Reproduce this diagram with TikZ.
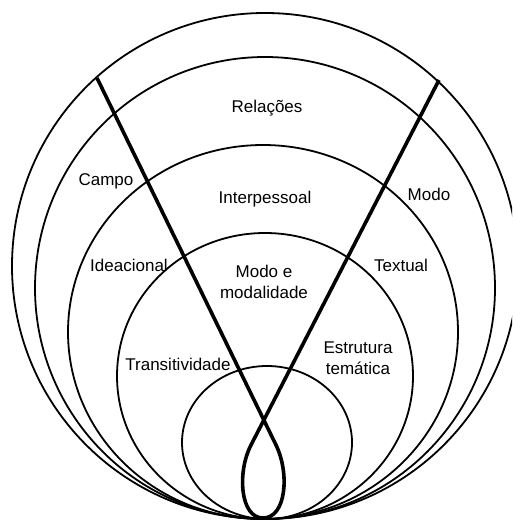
\documentclass[tikz,border=0pt]{standalone}
\usepackage{fontspec}
\setmainfont{Liberation Sans}
\begin{document}
\begin{tikzpicture}[x=1pt,y=-1pt,
  ring/.style={line width=1.8pt},
  axisline/.style={line width=3.6pt, line join=round},
  lbl/.style={font=\fontsize{17}{20.5}\selectfont, inner sep=0pt, align=center}]
\useasboundingbox (0,0) rectangle (512,521);
\clip (0,0) rectangle (512,521);
% nested rings, all touching at the bottom
\draw[ring] (265,266) ellipse [x radius=253pt, y radius=253pt];
\draw[ring] (265,288) ellipse [x radius=230pt, y radius=231pt];
\draw[ring] (263,332) ellipse [x radius=195pt, y radius=187pt];
\draw[ring] (265,376) ellipse [x radius=148pt, y radius=143pt];
\draw[ring] (267,442.5) ellipse [x radius=85pt, y radius=76.5pt];
% the two crossing lines with the loop at the bottom
\coordinate (A) at (97,78);
\coordinate (B) at (439,80);
\coordinate (P1) at (276,445);
\coordinate (P2) at (251,445);
\coordinate (Bot) at (263,518);
\draw[axisline] (A) -- (P1) .. controls (290,474) and (286,518) .. (Bot)
  .. controls (240,518) and (237,472) .. (P2) -- (B);
% labels
\node[lbl] (rel) at (267,108) {Relações};
\node[lbl] (campo) at (106,181) {Campo};
\node[lbl] (inter) at (265,199) {Interpessoal};
\node[lbl] (modo) at (429,194) {Modo};
\node[lbl] (idea) at (129,265) {Ideacional};
\node[lbl] (text) at (401,265) {Textual};
\node[lbl] (mm) at (264,282) {Modo e\\modalidade};
\node[lbl] (trans) at (178,364) {Transitividade};
\node[lbl] (estr) at (358,358) {Estrutura\\temática};
\end{tikzpicture}
\end{document}
